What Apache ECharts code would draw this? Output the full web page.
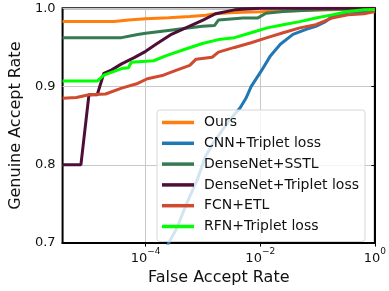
<!DOCTYPE html>
<html>
<head>
<meta charset="utf-8">
<script src="https://cdn.jsdelivr.net/npm/echarts@6/dist/echarts.min.js"></script>
<style>
    html, body { margin: 0; padding: 0; background: #fff; }
    #chart { width: 389px; height: 291px; }
</style>
</head>
<body>
<div id="chart"></div>
<script>
// x values are log10(False Accept Rate)
const seriesNames = ['Ours', 'CNN+Triplet loss', 'DenseNet+SSTL', 'DenseNet+Triplet loss', 'FCN+ETL', 'RFN+Triplet loss']
const colors = ['#ff7f0e', '#1f77b4', '#357a50', '#4d0f38', '#cf4a2f', '#00ff00']

const oursFar = [-5.45, -4.55, -4.3, -4.0, -3.6, -3.23, -2.95, -2.79, -2.45, -2.0, -1.5, -0.75, 0]
const oursGar = [0.983, 0.983, 0.985, 0.9866, 0.988, 0.9895, 0.991, 0.993, 0.9945, 0.9955, 0.997, 0.998, 1.0]

const cnnFar = [-3.75, -3.6, -3.45, -3.3, -3.1, -2.95, -2.8, -2.55, -2.35, -2.25, -2.16, -1.99, -1.82, -1.65, -1.43, -1.2, -1.03, -0.86, -0.75, -0.47, -0.19, 0]
const cnnGar = [0.675, 0.70, 0.72, 0.748, 0.781, 0.812, 0.83, 0.856, 0.873, 0.885, 0.9, 0.919, 0.9395, 0.954, 0.9666, 0.973, 0.977, 0.983, 0.9895, 0.995, 0.996, 0.998]

const sstlFar = [-5.45, -4.42, -4.14, -4.0, -3.57, -3.3, -3.01, -2.8, -2.73, -2.3, -2.05, -1.9, -1.6, -1.0, 0]
const sstlGar = [0.9625, 0.9625, 0.9666, 0.968, 0.972, 0.9745, 0.977, 0.978, 0.985, 0.9875, 0.9875, 0.9937, 0.9958, 0.998, 1.0]

const denseFar = [-5.45, -5.13, -4.99, -4.845, -4.73, -4.6, -4.42, -4.2, -4.0, -3.8, -3.57, -3.3, -3.0, -2.78, -2.45, -2.0, 0]
const denseGar = [0.8, 0.8, 0.8895, 0.8895, 0.917, 0.921, 0.929, 0.937, 0.945, 0.955, 0.966, 0.975, 0.985, 0.993, 0.998, 1.0, 1.0]

const fcnFar = [-5.45, -5.21, -4.99, -4.7, -4.42, -4.14, -3.97, -3.69, -3.46, -3.23, -3.12, -2.84, -2.73, -2.45, -2.16, -1.88, -1.6, -1.31, -1.03, -0.75, -0.47, -0.19, 0]
const fcnGar = [0.885, 0.886, 0.8895, 0.8905, 0.898, 0.904, 0.91, 0.9145, 0.921, 0.927, 0.935, 0.9375, 0.944, 0.95, 0.956, 0.9625, 0.9687, 0.975, 0.979, 0.9875, 0.9916, 0.993, 0.9958]

const rfnFar = [-5.45, -4.845, -4.73, -4.42, -4.3, -4.25, -3.86, -3.64, -3.3, -3.01, -2.73, -2.45, -2.16, -1.88, -1.6, -1.31, -1.03, -0.75, -0.47, -0.19, 0]
const rfnGar = [0.907, 0.907, 0.9145, 0.923, 0.924, 0.931, 0.933, 0.9396, 0.948, 0.955, 0.96, 0.9625, 0.9687, 0.975, 0.979, 0.983, 0.9875, 0.9916, 0.9958, 0.998, 0.9985]

const xTicks = [-4, -2, 0]
const yTicks = [0.7, 0.8, 0.9, 1.0]

const allFar = [oursFar, cnnFar, sstlFar, denseFar, fcnFar, rfnFar]
const allGar = [oursGar, cnnGar, sstlGar, denseGar, fcnGar, rfnGar]

const font = 'DejaVu Sans'
const ink = '#111'

function pairs(xs, ys) {
    return xs.map(function (x, i) { return [x, ys[i]] })
}

const series = seriesNames.map(function (name, i) {
    return {
        name: name,
        type: 'line',
        data: pairs(allFar[i], allGar[i]),
        symbol: 'none',
        color: colors[i],
        lineStyle: { width: 3, color: colors[i] },
        clip: true,
        animation: false
    }
})

const chart = echarts.init(document.getElementById('chart'), null, { renderer: 'canvas' })

chart.setOption({
    animation: false,
    grid: {
        left: 56, right: 11, top: 8.3, bottom: 42.7,
        show: true, borderColor: '#000', borderWidth: 2, backgroundColor: 'transparent'
    },
    legend: {
        orient: 'vertical',
        left: 157, top: 110,
        padding: [4.5, 6, 7, 5],
        itemWidth: 32, itemHeight: 3.5, itemGap: 4.8,
        icon: 'rect',
        backgroundColor: 'rgba(255,255,255,0.8)',
        borderColor: '#d6d6d6', borderWidth: 1, borderRadius: 3,
        textStyle: { fontFamily: font, fontSize: 14, color: ink, lineHeight: 16, padding: [0, 0, 0, 5] },
        data: seriesNames
    },
    xAxis: {
        type: 'value',
        min: -5.45, max: 0,
        name: 'False Accept Rate',
        nameLocation: 'middle',
        nameGap: 24,
        nameTextStyle: { fontFamily: font, fontSize: 16, color: ink },
        axisLine: { show: true, lineStyle: { color: '#000', width: 2 } },
        axisTick: { show: true, customValues: xTicks, length: 3.5, lineStyle: { color: '#000', width: 1 } },
        axisLabel: {
            customValues: xTicks,
            margin: 4,
            fontFamily: font,
            formatter: function (v) {
                const exp = v < 0 ? '\u2212' + Math.abs(v) : String(v)
                return '{b|10}{s|' + exp + '}'
            },
            rich: {
                b: { fontFamily: font, fontSize: 13, color: ink, verticalAlign: 'bottom', lineHeight: 18 },
                s: { fontFamily: font, fontSize: 9, color: ink, verticalAlign: 'top', lineHeight: 18 }
            }
        },
        splitLine: { show: true, lineStyle: { color: '#c8c8c8', width: 1 } }
    },
    yAxis: {
        type: 'value',
        min: 0.7, max: 1.0, interval: 0.1,
        name: 'Genuine Accept Rate',
        nameLocation: 'middle',
        nameGap: 33,
        nameTextStyle: { fontFamily: font, fontSize: 16, color: ink },
        axisLine: { show: true, lineStyle: { color: '#000', width: 2 } },
        axisTick: { show: true, length: 3.5, lineStyle: { color: '#000', width: 1 } },
        axisLabel: {
            margin: 7,
            fontFamily: font, fontSize: 13, color: ink,
            formatter: function (v) { return v.toFixed(1) }
        },
        splitLine: { show: true, lineStyle: { color: '#c8c8c8', width: 1 } }
    },
    series: series
})
</script>
</body>
</html>
